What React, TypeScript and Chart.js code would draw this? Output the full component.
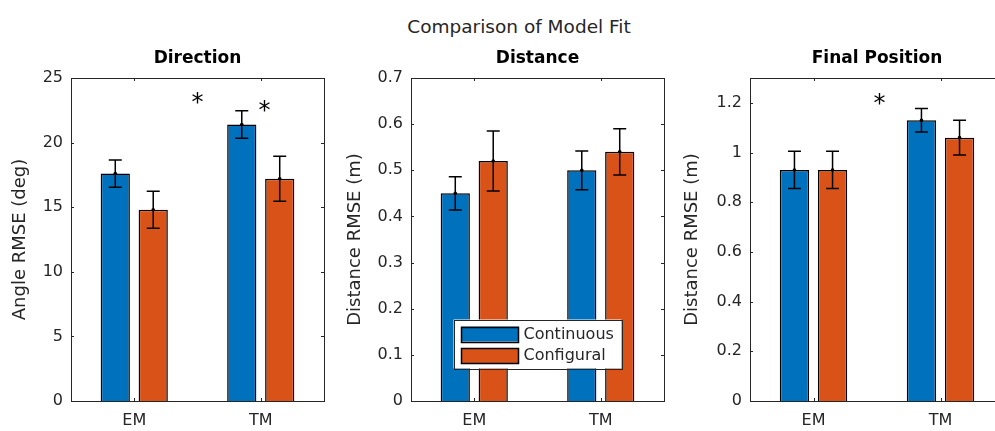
import React, { useEffect, useRef } from 'react';
import { Chart, registerables } from 'chart.js';
Chart.register(...registerables);

// ---------- data ----------
const categories = ['EM', 'TM'];
const seriesNames = ['Continuous', 'Configural'];

const directionContinuous = [17.6, 21.4];
const directionContinuousErr = [1.05, 1.07];
const directionConfigural = [14.8, 17.2];
const directionConfiguralErr = [1.43, 1.74];
const directionTicks = [0, 5, 10, 15, 20, 25];

const distanceContinuous = [0.45, 0.5];
const distanceContinuousErr = [0.036, 0.042];
const distanceConfigural = [0.52, 0.54];
const distanceConfiguralErr = [0.065, 0.05];
const distanceTicks = [0, 0.1, 0.2, 0.3, 0.4, 0.5, 0.6, 0.7];

const finalContinuous = [0.93, 1.13];
const finalContinuousErr = [0.075, 0.047];
const finalConfigural = [0.93, 1.06];
const finalConfiguralErr = [0.075, 0.07];
const finalTicks = [0, 0.2, 0.4, 0.6, 0.8, 1, 1.2];

const directionStars = [
  { x: 0.5, y: 23.45 },
  { x: 1.03, y: 22.8 },
];
const distanceStars: { x: number; y: number }[] = [];
const finalStars = [{ x: 0.52, y: 1.214 }];

const mainTitle = 'Comparison of Model Fit';

// ---------- styles ----------
const FONT = "'DejaVu Sans', sans-serif";
const AXIS_COLOR = '#262626';
const COLORS = ['rgb(0,114,189)', 'rgb(217,83,25)'];

type Star = { x: number; y: number };
type PanelSpec = {
  title: string;
  yLabel: string;
  yMax: number;
  yStep: number;
  ticks: number[];
  values: number[][];
  errors: number[][];
  stars: Star[];
  legend: boolean;
  left: number;
  yWidth: number;
  titlePad: number;
};

const fmt = (v: number) => String(parseFloat(Number(v).toFixed(3)));

function makeChart(canvas: HTMLCanvasElement, spec: PanelSpec) {
  const framePlugin = {
    id: 'frame',
    afterDatasetsDraw(chart: any) {
      const { ctx, chartArea: a, scales } = chart;
      ctx.save();
      ctx.strokeStyle = AXIS_COLOR;
      ctx.lineWidth = 1;
      ctx.strokeRect(Math.round(a.left) + 0.5, Math.round(a.top) + 0.5, Math.round(a.right - a.left), Math.round(a.bottom - a.top));
      const tl = 3;
      ctx.beginPath();
      spec.ticks.forEach((t) => {
        const y = Math.round(scales.y.getPixelForValue(t)) + 0.5;
        ctx.moveTo(a.left, y);
        ctx.lineTo(a.left + tl, y);
        ctx.moveTo(a.right, y);
        ctx.lineTo(a.right - tl, y);
      });
      categories.forEach((_, i) => {
        const x = Math.round(scales.x.getPixelForValue(i)) + 0.5;
        ctx.moveTo(x, a.bottom);
        ctx.lineTo(x, a.bottom - tl);
        ctx.moveTo(x, a.top);
        ctx.lineTo(x, a.top + tl);
      });
      ctx.stroke();
      ctx.restore();
    },
  };

  const errorPlugin = {
    id: 'errorbars',
    afterDatasetsDraw(chart: any) {
      const { ctx, scales } = chart;
      ctx.save();
      ctx.strokeStyle = '#000';
      ctx.fillStyle = '#000';
      ctx.lineWidth = 1.5;
      chart.data.datasets.forEach((ds: any, di: number) => {
        const meta = chart.getDatasetMeta(di);
        meta.data.forEach((bar: any, j: number) => {
          const v = ds.data[j];
          const e = spec.errors[di][j];
          const x = bar.x;
          const yTop = scales.y.getPixelForValue(v + e);
          const yBot = scales.y.getPixelForValue(v - e);
          const yv = scales.y.getPixelForValue(v);
          const cap = 6.5;
          ctx.beginPath();
          ctx.moveTo(x, yTop);
          ctx.lineTo(x, yBot);
          ctx.moveTo(x - cap, yTop);
          ctx.lineTo(x + cap, yTop);
          ctx.moveTo(x - cap, yBot);
          ctx.lineTo(x + cap, yBot);
          ctx.stroke();
          ctx.beginPath();
          ctx.arc(x, yv, 1.8, 0, Math.PI * 2);
          ctx.fill();
        });
      });
      ctx.restore();
    },
  };

  const textPlugin = {
    id: 'texts',
    afterDraw(chart: any) {
      const { ctx, chartArea: a, scales } = chart;
      ctx.save();
      // subplot title
      ctx.fillStyle = '#000';
      ctx.font = `bold 17px ${FONT}`;
      ctx.textAlign = 'center';
      ctx.textBaseline = 'middle';
      ctx.fillText(spec.title, (a.left + a.right) / 2, 59);
      // stars
      ctx.font = `24px ${FONT}`;
      ctx.textBaseline = 'alphabetic';
      spec.stars.forEach((s) => {
        const m = ctx.measureText('*');
        const px = scales.x.getPixelForValue(s.x);
        const py = scales.y.getPixelForValue(s.y);
        const off = (m.actualBoundingBoxAscent - m.actualBoundingBoxDescent) / 2;
        ctx.fillText('*', px, py + off);
      });
      // legend
      if (spec.legend) {
        const bx = a.left + 42.5;
        const by = a.top + 241.5;
        const bw = 168;
        const bh = 49;
        ctx.fillStyle = '#fff';
        ctx.fillRect(bx, by, bw, bh);
        ctx.strokeStyle = AXIS_COLOR;
        ctx.lineWidth = 1;
        ctx.strokeRect(Math.round(bx) + 0.5, Math.round(by) + 0.5, bw, bh);
        ctx.font = `16px ${FONT}`;
        ctx.textAlign = 'left';
        ctx.textBaseline = 'middle';
        seriesNames.forEach((name, i) => {
          const sy = by + 7 + i * 21.5;
          ctx.fillStyle = COLORS[i];
          ctx.fillRect(bx + 7.5, sy, 58, 15);
          ctx.strokeStyle = '#000';
          ctx.lineWidth = 1.5;
          ctx.strokeRect(Math.round(bx + 7.5) + 0.5, Math.round(sy) + 0.5, 57, 15);
          ctx.fillStyle = AXIS_COLOR;
          ctx.fillText(name, bx + 70, sy + 8);
        });
      }
      ctx.restore();
    },
  };

  return new Chart(canvas, {
    type: 'bar',
    data: {
      labels: categories,
      datasets: seriesNames.map((name, i) => ({
        label: name,
        data: spec.values[i],
        backgroundColor: COLORS[i],
        borderColor: '#000',
        borderWidth: 1.5,
        categoryPercentage: 0.6,
        barPercentage: 0.77,
      })),
    },
    options: {
      animation: false,
      responsive: false,
      events: [],
      layout: { padding: { top: 78, left: 0, right: 16, bottom: 0 } },
      plugins: { legend: { display: false }, tooltip: { enabled: false }, title: { display: false } },
      scales: {
        x: {
          grid: { display: false, drawTicks: false },
          border: { display: false },
          ticks: { color: AXIS_COLOR, font: { family: FONT, size: 16 }, padding: 10 },
          afterFit: (s: any) => {
            s.height = 30;
          },
        },
        y: {
          min: 0,
          max: spec.yMax,
          grid: { display: false, drawTicks: false },
          border: { display: false },
          ticks: {
            stepSize: spec.yStep,
            includeBounds: false,
            color: AXIS_COLOR,
            font: { family: FONT, size: 16 },
            padding: 8,
            callback: (v: any) => fmt(v),
          },
          title: {
            display: true,
            text: spec.yLabel,
            color: AXIS_COLOR,
            font: { family: FONT, size: 18 },
            padding: { top: spec.titlePad, bottom: 0 },
          },
          afterFit: (s: any) => {
            s.width = spec.yWidth;
          },
        },
      },
    },
    plugins: [framePlugin, errorPlugin, textPlugin],
  } as any);
}

const panels: PanelSpec[] = [
  {
    title: 'Direction',
    yLabel: 'Angle RMSE (deg)',
    yMax: 25,
    yStep: 5,
    ticks: directionTicks,
    values: [directionContinuous, directionConfigural],
    errors: [directionContinuousErr, directionConfiguralErr],
    stars: directionStars,
    legend: false,
    left: 0,
    yWidth: 71,
    titlePad: 10,
  },
  {
    title: 'Distance',
    yLabel: 'Distance RMSE (m)',
    yMax: 0.7,
    yStep: 0.1,
    ticks: distanceTicks,
    values: [distanceContinuous, distanceConfigural],
    errors: [distanceContinuousErr, distanceConfiguralErr],
    stars: distanceStars,
    legend: true,
    left: 340,
    yWidth: 71,
    titlePad: 5,
  },
  {
    title: 'Final Position',
    yLabel: 'Distance RMSE (m)',
    yMax: 1.3,
    yStep: 0.2,
    ticks: finalTicks,
    values: [finalContinuous, finalConfigural],
    errors: [finalContinuousErr, finalConfiguralErr],
    stars: finalStars,
    legend: false,
    left: 680,
    yWidth: 70,
    titlePad: 2,
  },
];

function Panel({ spec }: { spec: PanelSpec }) {
  const ref = useRef<HTMLCanvasElement>(null);
  useEffect(() => {
    if (!ref.current) return;
    const chart = makeChart(ref.current, spec);
    return () => chart.destroy();
  }, [spec]);
  return (
    <canvas
      ref={ref}
      width={340}
      height={431}
      style={{ position: 'absolute', left: spec.left, top: 0, width: 340, height: 431 }}
    />
  );
}

export default function App() {
  return (
    <div
      style={{
        position: 'fixed',
        left: 0,
        top: 0,
        width: 995,
        height: 431,
        overflow: 'hidden',
        background: '#fff',
      }}
    >
      <div
        style={{
          position: 'absolute',
          left: 0,
          width: 1038,
          top: 16,
          textAlign: 'center',
          fontFamily: FONT,
          fontSize: 18.5,
          lineHeight: '22px',
          color: AXIS_COLOR,
        }}
      >
        {mainTitle}
      </div>
      {panels.map((p, i) => (
        <Panel key={i} spec={p} />
      ))}
    </div>
  );
}
